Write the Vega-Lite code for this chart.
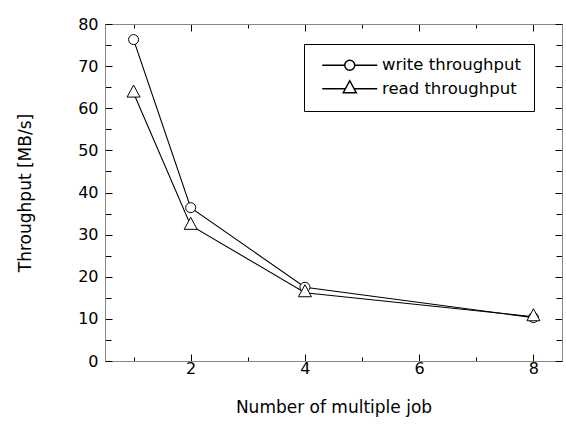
{
  "$schema": "https://vega.github.io/schema/vega-lite/v6.json",
  "width": 457,
  "height": 337,
  "autosize": "none",
  "padding": {"left": 105, "top": 24, "right": 4, "bottom": 63},
  "background": "white",
  "config": {
    "view": {"stroke": "black", "strokeWidth": 1},
    "font": "DejaVu Sans",
    "axis": {
      "grid": false,
      "labelColor": "black",
      "labelFontSize": 16,
      "titleFontSize": 17,
      "titleFontWeight": "normal",
      "titleColor": "black"
    }
  },
  "data": {
    "values": [
      {"jobs": 1, "throughput": 76.3, "series": "write throughput"},
      {"jobs": 2, "throughput": 36.4, "series": "write throughput"},
      {"jobs": 4, "throughput": 17.5, "series": "write throughput"},
      {"jobs": 8, "throughput": 10.3, "series": "write throughput"},
      {"jobs": 1, "throughput": 63.6, "series": "read throughput"},
      {"jobs": 2, "throughput": 32.2, "series": "read throughput"},
      {"jobs": 4, "throughput": 16.2, "series": "read throughput"},
      {"jobs": 8, "throughput": 10.5, "series": "read throughput"}
    ]
  },
  "layer": [
    {
      "mark": {"type": "line", "color": "black", "strokeWidth": 1.1},
      "encoding": {
        "x": {
          "field": "jobs", "type": "quantitative",
          "scale": {"domain": [0.5, 8.5], "nice": false, "zero": false},
          "axis": {
            "orient": "bottom",
            "values": [1, 2, 3, 4, 5, 6, 7, 8],
            "title": "Number of multiple job",
            "labelExpr": "datum.value % 2 === 0 ? datum.label : ''",
            "tickColor": "#000",
            "tickSize": {"condition": {"test": "datum.value % 2 === 0", "value": -7}, "value": -4},
            "labelPadding": 6,
            "titlePadding": 23
          }
        },
        "y": {
          "field": "throughput", "type": "quantitative",
          "scale": {"domain": [0, 80], "nice": false},
          "axis": {
            "orient": "left",
            "values": [0, 5, 10, 15, 20, 25, 30, 35, 40, 45, 50, 55, 60, 65, 70, 75, 80],
            "title": "Throughput [MB/s]",
            "labelExpr": "datum.value % 10 === 0 ? datum.label : ''",
            "tickColor": "#000",
            "tickSize": {"condition": {"test": "datum.value % 10 === 0", "value": -7}, "value": -6},
            "labelPadding": 14,
            "titlePadding": 43
          }
        },
        "detail": {"field": "series"}
      }
    },
    {
      "mark": {"type": "point", "filled": true, "fill": "white", "stroke": "black", "strokeWidth": 1, "size": 100, "opacity": 1},
      "encoding": {
        "x": {
          "field": "jobs", "type": "quantitative",
          "axis": {
            "orient": "top",
            "values": [1, 2, 3, 4, 5, 6, 7, 8],
            "title": null,
            "labels": false,
            "tickColor": "#000",
            "tickSize": {"condition": {"test": "datum.value % 2 === 0", "value": -7}, "value": -4}
          }
        },
        "y": {
          "field": "throughput", "type": "quantitative",
          "axis": {
            "orient": "right",
            "values": [0, 5, 10, 15, 20, 25, 30, 35, 40, 45, 50, 55, 60, 65, 70, 75, 80],
            "title": null,
            "labels": false,
            "tickColor": "#000",
            "tickSize": {"condition": {"test": "datum.value % 10 === 0", "value": -7}, "value": -6}
          }
        },
        "shape": {
          "field": "series", "type": "nominal",
          "scale": {"domain": ["write throughput", "read throughput"], "range": ["circle", "M0,-1.6L1.3,0.8L-1.3,0.8Z"]},
          "legend": null
        }
      }
    },
    {
      "transform": [{"filter": "false"}],
      "mark": {"type": "point", "filled": true, "fill": "white", "stroke": "black", "strokeWidth": 1, "size": 100, "opacity": 1},
      "encoding": {
        "shape": {
          "field": "series", "type": "nominal",
          "scale": {
            "domain": ["write throughput", "read throughput"],
            "range": [
              "M-5.5,0L-1,0M1,0L5.5,0M-1,0A1,1,0,1,1,1,0A1,1,0,1,1,-1,0Z",
              "M-5.5,0L-0.9,0M0.9,0L5.5,0M0,-1.6L1.3,0.8L-1.3,0.8Z"
            ]
          },
          "legend": {
            "title": null,
            "orient": "none",
            "legendX": 199,
            "legendY": 20,
            "padding": 13,
            "strokeColor": "#000",
            "fillColor": "white",
            "labelFontSize": 16.5,
            "labelColor": "black",
            "rowPadding": 3.5,
            "symbolSize": 100,
            "symbolOffset": 24.5,
            "labelOffset": 24
          }
        }
      }
    }
  ],
  "resolve": {
    "axis": {"x": "independent", "y": "independent"},
    "scale": {"shape": "independent"}
  }
}
